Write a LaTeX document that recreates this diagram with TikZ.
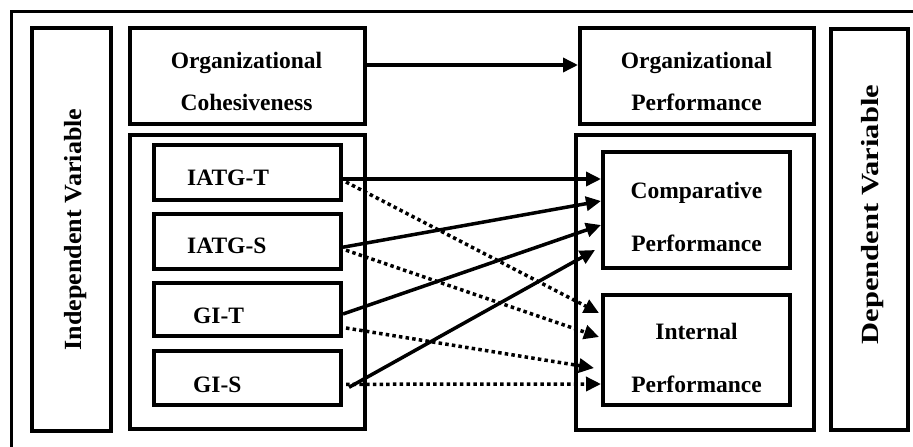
\documentclass[tikz,border=0pt]{standalone}
\usepackage{fontspec}
\setmainfont{Liberation Serif}
\usetikzlibrary{arrows.meta}
\begin{document}
\begin{tikzpicture}[x=1pt,y=-1pt,
  box/.style={draw, line width=4pt, rectangle, inner sep=0pt},
  lbl/.style={inner sep=0pt, font=\fontsize{23.5}{28}\selectfont\bfseries},
  vlbl/.style={inner sep=0pt, rotate=90, font=\fontsize{23.5}{28}\selectfont\bfseries},
  solidarr/.style={line width=3.5pt, -{Triangle[length=15pt,width=14pt]}},
  dotarr/.style={line width=3.5pt, dash pattern=on 3.5pt off 3.2pt, -{Triangle[length=15pt,width=14pt]}}
]
\useasboundingbox (0,0) rectangle (913,447);
\fill[white] (0,0) rectangle (913,447);
% outer frame (cut off at right and bottom)
\draw[line width=3.5pt] (11.5,460) -- (11.5,11.5) -- (930,11.5);

% boxes
\node[box, minimum width=79pt, minimum height=403pt] (indep) at (71.5,229.5) {};
\node[box, minimum width=235pt, minimum height=96pt] (coh) at (247.5,76) {};
\node[box, minimum width=235pt, minimum height=294pt] (lbig) at (247.5,282) {};
\node[box, minimum width=187pt, minimum height=55pt] (iatgt) at (247.5,172.5) {};
\node[box, minimum width=187pt, minimum height=55pt] (iatgs) at (247.5,241.2) {};
\node[box, minimum width=187pt, minimum height=53pt] (git) at (247.5,309) {};
\node[box, minimum width=187pt, minimum height=54pt] (gis) at (247.5,378.3) {};
\node[box, minimum width=234pt, minimum height=96pt] (operf) at (697,76) {};
\node[box, minimum width=238pt, minimum height=295pt] (rbig) at (695,282.5) {};
\node[box, minimum width=187pt, minimum height=116pt] (comp) at (696.5,210) {};
\node[box, minimum width=187pt, minimum height=110pt] (intern) at (696.5,350) {};
\node[box, minimum width=77pt, minimum height=401pt] (dep) at (869.5,229.5) {};

% texts
\node[lbl, anchor=base] (t1) at (246.5,68) {Organizational};
\node[lbl, anchor=base] (t2) at (246.5,110) {Cohesiveness};
\node[lbl, anchor=base] (t3) at (696.5,68) {Organizational};
\node[lbl, anchor=base] (t4) at (696.5,110) {Performance};
\node[lbl, anchor=base west] (t5) at (187,185) {IATG-T};
\node[lbl, anchor=base west] (t6) at (187,253) {IATG-S};
\node[lbl, anchor=base west] (t7) at (193,323) {GI-T};
\node[lbl, anchor=base west] (t8) at (193,392) {GI-S};
\node[lbl, anchor=base] (t9) at (696.5,198) {Comparative};
\node[lbl, anchor=base] (t10) at (696.5,251) {Performance};
\node[lbl, anchor=base] (t11) at (696.5,339) {Internal};
\node[lbl, anchor=base] (t12) at (696.5,392) {Performance};
\node[vlbl] (t13) at (76,229.5) {\scalebox{1.11}[1.05]{Independent Variable}};
\node[vlbl] (t14) at (873,214.5) {\scalebox{1.3}[1.05]{Dependent Variable}};

% connectors
\draw[solidarr] ([yshift=11pt]coh.east) -- ([yshift=11pt]operf.west);
\draw[solidarr] ([yshift=-6.5pt]iatgt.east) -- ([yshift=31pt]comp.west);
\draw[solidarr] ([yshift=-6pt]iatgs.east) -- ([yshift=9pt]comp.west);
\draw[solidarr] ([yshift=-5pt]git.east) -- ([yshift=-15pt]comp.west);
\draw[solidarr] ([xshift=6pt,yshift=-9pt]gis.east) -- ([xshift=-6pt,yshift=-40pt]comp.west);
\draw[dotarr] ([xshift=3pt,yshift=-9.5pt]iatgt.east) -- ([xshift=-2pt,yshift=37pt]intern.west);
\draw[dotarr] ([xshift=3pt,yshift=-9pt]iatgs.east) -- ([xshift=-2pt,yshift=13pt]intern.west);
\draw[dotarr] ([xshift=3pt,yshift=-19pt]git.east) -- ([xshift=-7pt,yshift=-18pt]intern.west);
\draw[dotarr] ([xshift=3pt,yshift=-6pt]gis.east) -- ([yshift=-34pt]intern.west);
\end{tikzpicture}
\end{document}
